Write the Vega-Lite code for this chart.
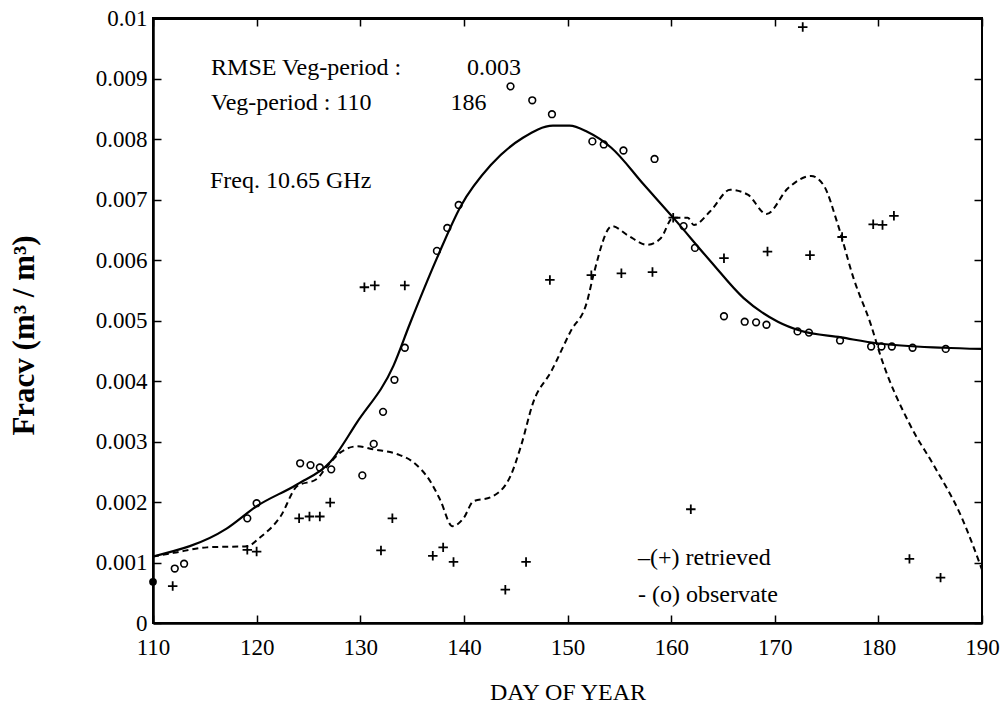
{
  "$schema": "https://vega.github.io/schema/vega-lite/v6.json",
  "width": 829,
  "height": 605,
  "autosize": {"type": "none"},
  "padding": {"left": 153, "top": 18, "right": 23, "bottom": 88},
  "background": "white",
  "config": {
    "view": {"stroke": "black", "strokeWidth": 2},
    "font": "Liberation Serif",
    "axis": {
      "labelFont": "Liberation Serif",
      "titleFont": "Liberation Serif",
      "labelColor": "black",
      "titleColor": "black",
      "domainColor": "black",
      "tickColor": "black",
      "grid": false
    }
  },
  "datasets": {
    "observed": [
      {"day": 112.1, "fracv": 0.0009}, {"day": 113, "fracv": 0.00098},
      {"day": 119.1, "fracv": 0.00173}, {"day": 120, "fracv": 0.00198},
      {"day": 124.2, "fracv": 0.00264}, {"day": 125.2, "fracv": 0.00261},
      {"day": 126.1, "fracv": 0.00257}, {"day": 127.2, "fracv": 0.00254},
      {"day": 130.2, "fracv": 0.00244}, {"day": 131.3, "fracv": 0.00296},
      {"day": 132.2, "fracv": 0.00349}, {"day": 133.3, "fracv": 0.00402},
      {"day": 134.3, "fracv": 0.00455}, {"day": 137.4, "fracv": 0.00615},
      {"day": 138.4, "fracv": 0.00653}, {"day": 139.5, "fracv": 0.00691},
      {"day": 144.5, "fracv": 0.00887}, {"day": 146.6, "fracv": 0.00864},
      {"day": 148.5, "fracv": 0.00841}, {"day": 152.4, "fracv": 0.00796},
      {"day": 153.5, "fracv": 0.00791}, {"day": 155.4, "fracv": 0.00781},
      {"day": 158.4, "fracv": 0.00767}, {"day": 161.2, "fracv": 0.00656},
      {"day": 162.3, "fracv": 0.0062}, {"day": 165.1, "fracv": 0.00507},
      {"day": 167.1, "fracv": 0.00498}, {"day": 168.2, "fracv": 0.00497},
      {"day": 169.2, "fracv": 0.00493}, {"day": 172.2, "fracv": 0.00482},
      {"day": 173.3, "fracv": 0.0048}, {"day": 176.3, "fracv": 0.00467},
      {"day": 179.3, "fracv": 0.00457}, {"day": 180.3, "fracv": 0.00457},
      {"day": 181.3, "fracv": 0.00457}, {"day": 183.3, "fracv": 0.00455},
      {"day": 186.5, "fracv": 0.00453}
    ],
    "dot": [{"day": 110, "fracv": 0.00068}],
    "retrieved": [
      {"day": 111.9, "fracv": 0.00061}, {"day": 119.1, "fracv": 0.00121},
      {"day": 120, "fracv": 0.00118}, {"day": 124.1, "fracv": 0.00173},
      {"day": 125.1, "fracv": 0.00176}, {"day": 126.1, "fracv": 0.00176},
      {"day": 127.1, "fracv": 0.00199}, {"day": 130.4, "fracv": 0.00555},
      {"day": 131.4, "fracv": 0.00558}, {"day": 132, "fracv": 0.0012},
      {"day": 133.1, "fracv": 0.00173}, {"day": 134.3, "fracv": 0.00558},
      {"day": 137, "fracv": 0.00111}, {"day": 138, "fracv": 0.00125},
      {"day": 139, "fracv": 0.00101}, {"day": 144, "fracv": 0.00055},
      {"day": 146, "fracv": 0.00101}, {"day": 148.3, "fracv": 0.00567},
      {"day": 152.3, "fracv": 0.00575}, {"day": 155.2, "fracv": 0.00578},
      {"day": 158.2, "fracv": 0.0058}, {"day": 160.2, "fracv": 0.0067},
      {"day": 161.9, "fracv": 0.00188}, {"day": 165.1, "fracv": 0.00603},
      {"day": 169.3, "fracv": 0.00614}, {"day": 172.7, "fracv": 0.00985},
      {"day": 173.4, "fracv": 0.00608}, {"day": 176.5, "fracv": 0.00638},
      {"day": 179.5, "fracv": 0.00659}, {"day": 180.4, "fracv": 0.00658},
      {"day": 181.5, "fracv": 0.00673}, {"day": 183, "fracv": 0.00106},
      {"day": 186, "fracv": 0.00075}
    ],
    "fitObserved": [
      {"day": 110, "fracv": 0.0011}, {"day": 117.1, "fracv": 0.00156},
      {"day": 120, "fracv": 0.00193}, {"day": 123.9, "fracv": 0.00229},
      {"day": 127.1, "fracv": 0.00266}, {"day": 129.7, "fracv": 0.00332},
      {"day": 133.2, "fracv": 0.00425}, {"day": 134.8, "fracv": 0.00495},
      {"day": 137.4, "fracv": 0.00603}, {"day": 139.7, "fracv": 0.00689},
      {"day": 142.6, "fracv": 0.00757}, {"day": 145.7, "fracv": 0.00802},
      {"day": 148.6, "fracv": 0.00822}, {"day": 150.2, "fracv": 0.00822},
      {"day": 151.9, "fracv": 0.00812}, {"day": 154.2, "fracv": 0.00786},
      {"day": 157.4, "fracv": 0.00724}, {"day": 160.2, "fracv": 0.0067},
      {"day": 163.8, "fracv": 0.00598}, {"day": 167, "fracv": 0.00537},
      {"day": 170.3, "fracv": 0.00498}, {"day": 172.5, "fracv": 0.00483},
      {"day": 176.4, "fracv": 0.00472}, {"day": 180, "fracv": 0.00462},
      {"day": 186.3, "fracv": 0.00455}, {"day": 190, "fracv": 0.00453}
    ],
    "fitRetrieved": [
      {"day": 110, "fracv": 0.0011}, {"day": 112, "fracv": 0.00116},
      {"day": 115.2, "fracv": 0.00125}, {"day": 119.1, "fracv": 0.00127},
      {"day": 120.3, "fracv": 0.00141}, {"day": 122.3, "fracv": 0.00176},
      {"day": 123.9, "fracv": 0.00226}, {"day": 125.8, "fracv": 0.00238},
      {"day": 126.8, "fracv": 0.00259}, {"day": 128.1, "fracv": 0.00282},
      {"day": 129.7, "fracv": 0.00292}, {"day": 131.3, "fracv": 0.00287},
      {"day": 133.6, "fracv": 0.00279}, {"day": 135.1, "fracv": 0.00266},
      {"day": 136.8, "fracv": 0.00233}, {"day": 137.7, "fracv": 0.00204},
      {"day": 138.9, "fracv": 0.0016}, {"day": 140, "fracv": 0.00174},
      {"day": 140.9, "fracv": 0.00201}, {"day": 142.6, "fracv": 0.00208},
      {"day": 144.5, "fracv": 0.00243}, {"day": 145.5, "fracv": 0.00292},
      {"day": 146.7, "fracv": 0.00365}, {"day": 148.4, "fracv": 0.00415},
      {"day": 150.3, "fracv": 0.00482}, {"day": 151.9, "fracv": 0.00532},
      {"day": 152.5, "fracv": 0.00575}, {"day": 154.3, "fracv": 0.00656},
      {"day": 155.8, "fracv": 0.00641}, {"day": 157.7, "fracv": 0.00625},
      {"day": 159, "fracv": 0.00636}, {"day": 160.2, "fracv": 0.0067},
      {"day": 161.6, "fracv": 0.0067}, {"day": 162.2, "fracv": 0.00658},
      {"day": 163.8, "fracv": 0.00681}, {"day": 165.7, "fracv": 0.00716},
      {"day": 167.4, "fracv": 0.00708}, {"day": 169.2, "fracv": 0.00676},
      {"day": 171.3, "fracv": 0.00719}, {"day": 173.5, "fracv": 0.00739},
      {"day": 174.7, "fracv": 0.00724}, {"day": 176.1, "fracv": 0.00658},
      {"day": 177.6, "fracv": 0.0057}, {"day": 179.3, "fracv": 0.00492},
      {"day": 180.2, "fracv": 0.00442}, {"day": 183.1, "fracv": 0.00326},
      {"day": 185.4, "fracv": 0.00259}, {"day": 188, "fracv": 0.00176},
      {"day": 190, "fracv": 0.00088}
    ],
    "notes": [
      {"day": 115.6, "fracv": 0.00918, "label": "RMSE Veg-period :"},
      {"day": 140.3, "fracv": 0.00918, "label": "0.003"},
      {"day": 115.6, "fracv": 0.00859, "label": "Veg-period : 110"},
      {"day": 138.7, "fracv": 0.00859, "label": "186"},
      {"day": 115.5, "fracv": 0.00731, "label": "Freq. 10.65 GHz"},
      {"day": 156.8, "fracv": 0.00108, "label": "–(+) retrieved"},
      {"day": 156.8, "fracv": 0.00046, "label": "-  (o) observate"}
    ]
  },
  "resolve": {"axis": {"x": "independent", "y": "independent"}},
  "layer": [
    {
      "data": {"name": "fitObserved"},
      "mark": {"type": "line", "color": "black", "strokeWidth": 2.2, "interpolate": "monotone"},
      "encoding": {
        "x": {"field": "day", "type": "quantitative",
              "scale": {"domain": [110, 190], "nice": false, "zero": false},
              "axis": {"orient": "bottom", "values": [110, 120, 130, 140, 150, 160, 170, 180, 190],
                       "title": "DAY OF YEAR", "titleFontSize": 24, "titleFontWeight": "normal",
                       "titlePadding": 21, "labelFontSize": 23, "labelPadding": 21,
                       "tickSize": -8, "tickWidth": 1.5, "domainWidth": 2.5, "labelFlush": false}},
        "y": {"field": "fracv", "type": "quantitative",
              "scale": {"domain": [0, 0.01], "nice": false},
              "axis": {"orient": "left", "values": [0, 0.001, 0.002, 0.003, 0.004, 0.005, 0.006, 0.007, 0.008, 0.009, 0.01],
                       "format": ".3~f", "title": "Fracv (m³ / m³)", "titleFontSize": 31,
                       "titleFontWeight": "bold", "titleX": -129, "titleY": 317,
                       "titleBaseline": "middle", "labelFontSize": 23,
                       "labelPadding": 14, "tickSize": -8, "tickWidth": 1.5, "domainWidth": 2.5,
                       "labelFlush": false}}
      }
    },
    {
      "data": {"name": "fitRetrieved"},
      "mark": {"type": "line", "color": "black", "strokeWidth": 2, "strokeDash": [6, 4], "interpolate": "monotone"},
      "encoding": {
        "x": {"field": "day", "type": "quantitative",
              "axis": {"orient": "top", "values": [110, 120, 130, 140, 150, 160, 170, 180, 190],
                       "labels": false, "title": null, "domain": true, "domainWidth": 3, "tickSize": -8, "tickWidth": 1.5}},
        "y": {"field": "fracv", "type": "quantitative",
              "axis": {"orient": "right", "values": [0, 0.001, 0.002, 0.003, 0.004, 0.005, 0.006, 0.007, 0.008, 0.009, 0.01],
                       "labels": false, "title": null, "domain": false, "tickSize": -8, "tickWidth": 1.5}}
      }
    },
    {
      "data": {"name": "observed"},
      "mark": {"type": "point", "shape": "circle", "filled": false, "color": "black", "opacity": 1, "size": 45, "strokeWidth": 1.6},
      "encoding": {
        "x": {"field": "day", "type": "quantitative", "axis": null},
        "y": {"field": "fracv", "type": "quantitative", "axis": null}
      }
    },
    {
      "data": {"name": "dot"},
      "mark": {"type": "point", "shape": "circle", "filled": true, "color": "black", "size": 60, "opacity": 1},
      "encoding": {
        "x": {"field": "day", "type": "quantitative", "axis": null},
        "y": {"field": "fracv", "type": "quantitative", "axis": null}
      }
    },
    {
      "data": {"name": "retrieved"},
      "mark": {"type": "point", "shape": "M-1,0L1,0M0,-1L0,1", "filled": false, "color": "black", "opacity": 1, "size": 90, "strokeWidth": 1.8},
      "encoding": {
        "x": {"field": "day", "type": "quantitative", "axis": null},
        "y": {"field": "fracv", "type": "quantitative", "axis": null}
      }
    },
    {
      "data": {"name": "notes"},
      "mark": {"type": "text", "align": "left", "baseline": "middle", "fontSize": 24, "font": "Liberation Serif", "color": "black"},
      "encoding": {
        "x": {"field": "day", "type": "quantitative", "axis": null},
        "y": {"field": "fracv", "type": "quantitative", "axis": null},
        "text": {"field": "label"}
      }
    }
  ]
}
